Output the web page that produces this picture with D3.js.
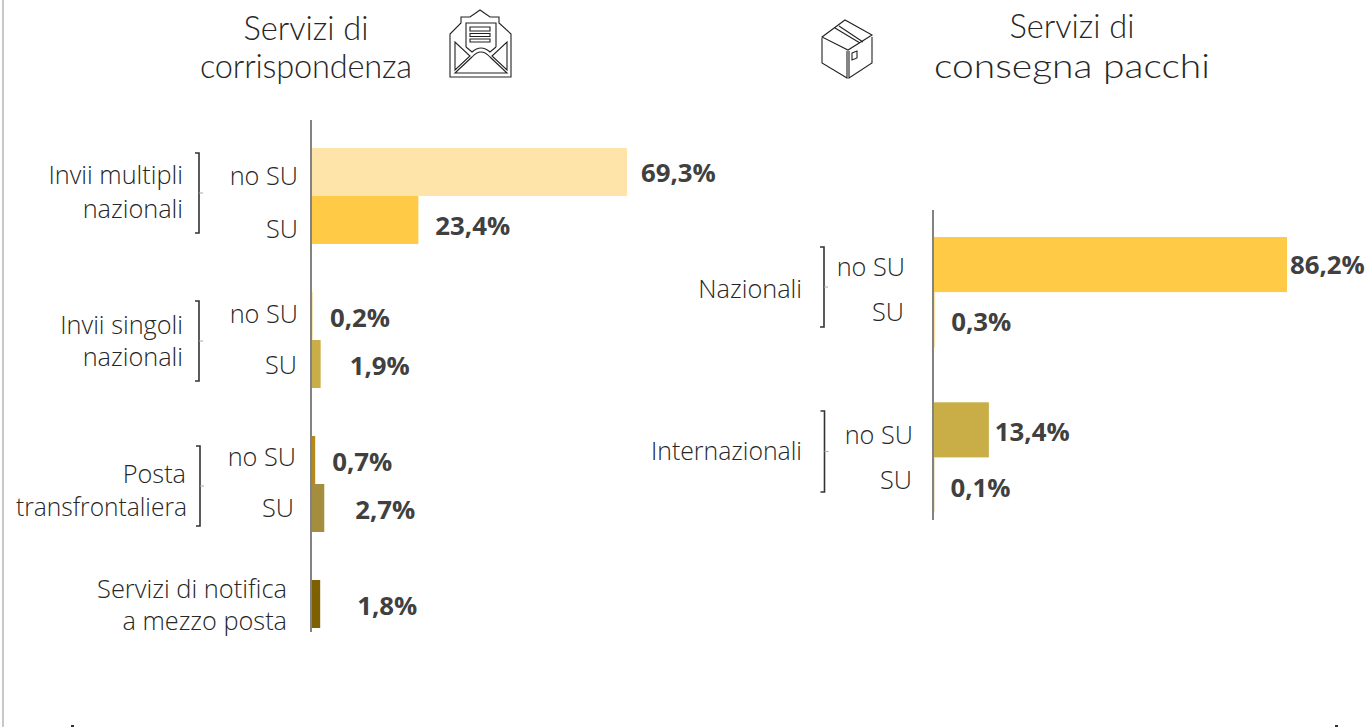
<!DOCTYPE html>
<html>
<head>
<meta charset="utf-8">
<script src="https://cdn.jsdelivr.net/npm/d3@7"></script>
<style>
  html, body { margin: 0; padding: 0; background: #fff; overflow: hidden; }
  svg { display: block; }
  .cat { font-family: "Open Sans", sans-serif; font-weight: 300; font-size: 25.3px; fill: #262626; }
  .val { font-family: "Open Sans", sans-serif; font-weight: 700; font-size: 25.8px; fill: #404040; }
  .title { font-family: Lato, sans-serif; font-weight: 300; font-size: 32.6px; fill: #262626; text-anchor: middle; }
  .icon { fill: none; stroke: #222; stroke-width: 1.1; }
</style>
</head>
<body>
<svg></svg>
<script>
// Values, rows with blanks are the gaps between the groups
const mailRows = ["a1", "a2", "", "b1", "b2", " ", "c1", "c2", "  ", "d1"];
const mailBars = ["a1", "a2", "b1", "b2", "c1", "c2", "d1"];
const mailValues = [69.3, 23.4, 0.2, 1.9, 0.7, 2.7, 1.8];
const mailColors = ["#ffe4a9", "#ffca45", "#f7e6a6", "#c9ae47", "#b58a1c", "#a58d3e", "#7f6000"];

const parcelRows = ["e1", "e2", "", "f1", "f2"];
const parcelBars = ["e1", "e2", "f1", "f2"];
const parcelValues = [86.2, 0.3, 13.4, 0.1];
const parcelColors = ["#ffca45", "#ffe4a9", "#c9ae47", "#d9c27a"];

const valueLabels = (v) => v.toFixed(1).replace(".", ",") + "%";

// Hand placed labels, same as the original slide: [gap from bar end, shift from bar middle]
const mailNudge = [[14, 3], [17, 8], [17, 4], [29, 4], [17, 4], [31, 4], [37, 4]];
const parcelNudge = [[3, 3], [16, 4], [6, 4], [16, 5]];

// Text next to the bars: [text, right edge, baseline, optional fitted width]
const mailText = [
  ["Invii multipli", 183, 184], ["nazionali", 183, 218],
  ["Invii singoli", 183, 334], ["nazionali", 183, 366],
  ["Posta", 186, 483], ["transfrontaliera", 187, 516, 171],
  ["Servizi di notifica", 287, 598, 190], ["a mezzo posta", 287, 630],
  ["no SU", 298, 185], ["SU", 298, 238],
  ["no SU", 298, 323], ["SU", 297, 374],
  ["no SU", 296, 466], ["SU", 294, 517]
];
const parcelText = [
  ["Nazionali", 802, 298], ["Internazionali", 802, 460, 151],
  ["no SU", 905, 276], ["SU", 904, 321],
  ["no SU", 913, 444], ["SU", 912, 489]
];

// Bracket spans: [x, top, bottom]
const brackets = [
  [199, 153, 233], [199, 301, 381], [200, 446, 526],
  [824, 247, 327], [824.5, 411, 492]
];

const svg = d3.select("svg").attr("width", 1368).attr("height", 727);

// Grey frame on the left and two stray corners at the bottom
svg.append("rect").attr("x", 2).attr("y", 0).attr("width", 2).attr("height", 727).attr("fill", "#c8c8c8");
svg.append("rect").attr("x", 71).attr("y", 725).attr("width", 3).attr("height", 2).attr("fill", "#333");
svg.append("rect").attr("x", 1335).attr("y", 725).attr("width", 3).attr("height", 2).attr("fill", "#333");

function drawPanel(rows, bars, values, colors, nudge, text, opts) {
  const x = d3.scaleLinear().domain([0, opts.maxValue]).range([opts.x0, opts.x1]);
  const y = d3.scaleBand().domain(rows).range(opts.yRange).padding(0);

  const g = svg.append("g");

  g.selectAll("rect.bar")
    .data(bars)
    .enter()
    .append("rect")
    .attr("class", "bar")
    .attr("x", x(0))
    .attr("y", (d) => y(d))
    .attr("width", (d, i) => x(values[i]) - x(0))
    .attr("height", y.bandwidth())
    .attr("fill", (d, i) => colors[i]);

  // Axis line, a bit longer than the bars
  g.append("line")
    .attr("x1", x(0) - 1).attr("x2", x(0) - 1)
    .attr("y1", opts.axisY[0]).attr("y2", opts.axisY[1])
    .attr("stroke", "#404040")
    .attr("stroke-width", 1.3);

  g.selectAll("text.val")
    .data(bars)
    .enter()
    .append("text")
    .attr("class", "val")
    .attr("x", (d, i) => x(values[i]) + nudge[i][0])
    .attr("y", (d, i) => y(d) + y.bandwidth() / 2 + nudge[i][1])
    .attr("dominant-baseline", "middle")
    .text((d, i) => valueLabels(values[i]));

  g.selectAll("text.cat")
    .data(text)
    .enter()
    .append("text")
    .attr("class", "cat")
    .attr("text-anchor", "end")
    .attr("x", (d) => d[1])
    .attr("y", (d) => d[2])
    .attr("textLength", (d) => d[3] || null)
    .attr("lengthAdjust", (d) => (d[3] ? "spacingAndGlyphs" : null))
    .text((d) => d[0]);
}

drawPanel(mailRows, mailBars, mailValues, mailColors, mailNudge, mailText, {
  maxValue: 69.3, x0: 312, x1: 627, yRange: [148, 628], axisY: [120, 632]
});
drawPanel(parcelRows, parcelBars, parcelValues, parcelColors, parcelNudge, parcelText, {
  maxValue: 86.2, x0: 934, x1: 1287, yRange: [237, 512.5], axisY: [210, 520]
});

// Brackets
brackets.forEach(([bx, top, bottom]) => {
  svg.append("path")
    .attr("d", `M${bx - 4},${top}H${bx}V${bottom}H${bx - 4}`)
    .attr("fill", "none")
    .attr("stroke", "#333")
    .attr("stroke-width", 1.6);
  svg.append("path")
    .attr("d", `M${bx},${(top + bottom) / 2}h4`)
    .attr("stroke", "#aaa")
    .attr("stroke-width", 1);
});

// Titles
svg.append("text").attr("class", "title").attr("x", 306).attr("y", 40).text("Servizi di");
svg.append("text").attr("class", "title").attr("x", 306).attr("y", 78)
  .attr("textLength", 212).attr("lengthAdjust", "spacing").text("corrispondenza");
svg.append("text").attr("class", "title").attr("x", 1072).attr("y", 38).text("Servizi di");
svg.append("text").attr("class", "title").attr("x", 1072).attr("y", 78)
  .attr("textLength", 276).attr("lengthAdjust", "spacingAndGlyphs").text("consegna pacchi");

// Envelope icon
svg.append("path").attr("class", "icon").attr("d",
  "M450,77H511V34L499,23V17H490L480,10L470,17H461V23L450,34Z" +
  "M466,47V23H496V47" +
  "M455,42V70L470,56ZM507,42V70L492,56Z" +
  "M455,73L472,57Q481,47 490,57L507,73Z" +
  "M466,47L472,52Q481,44 490,52L496,47");
svg.append("path").attr("class", "icon").attr("d",
  "M470,27H490V31H470ZM470,33.5H490V36.5H470ZM470,39H490V42H470Z");

// Box icon
svg.append("path").attr("class", "icon").attr("d",
  "M822,37L845,20L872,35L848,50ZM835,28L860,43M839,26L863,42" +
  "M822,38V63L847,78V51M849,51V78L872,63V37" +
  "M852,53L857,51V58L852,60Z");
</script>
</body>
</html>
